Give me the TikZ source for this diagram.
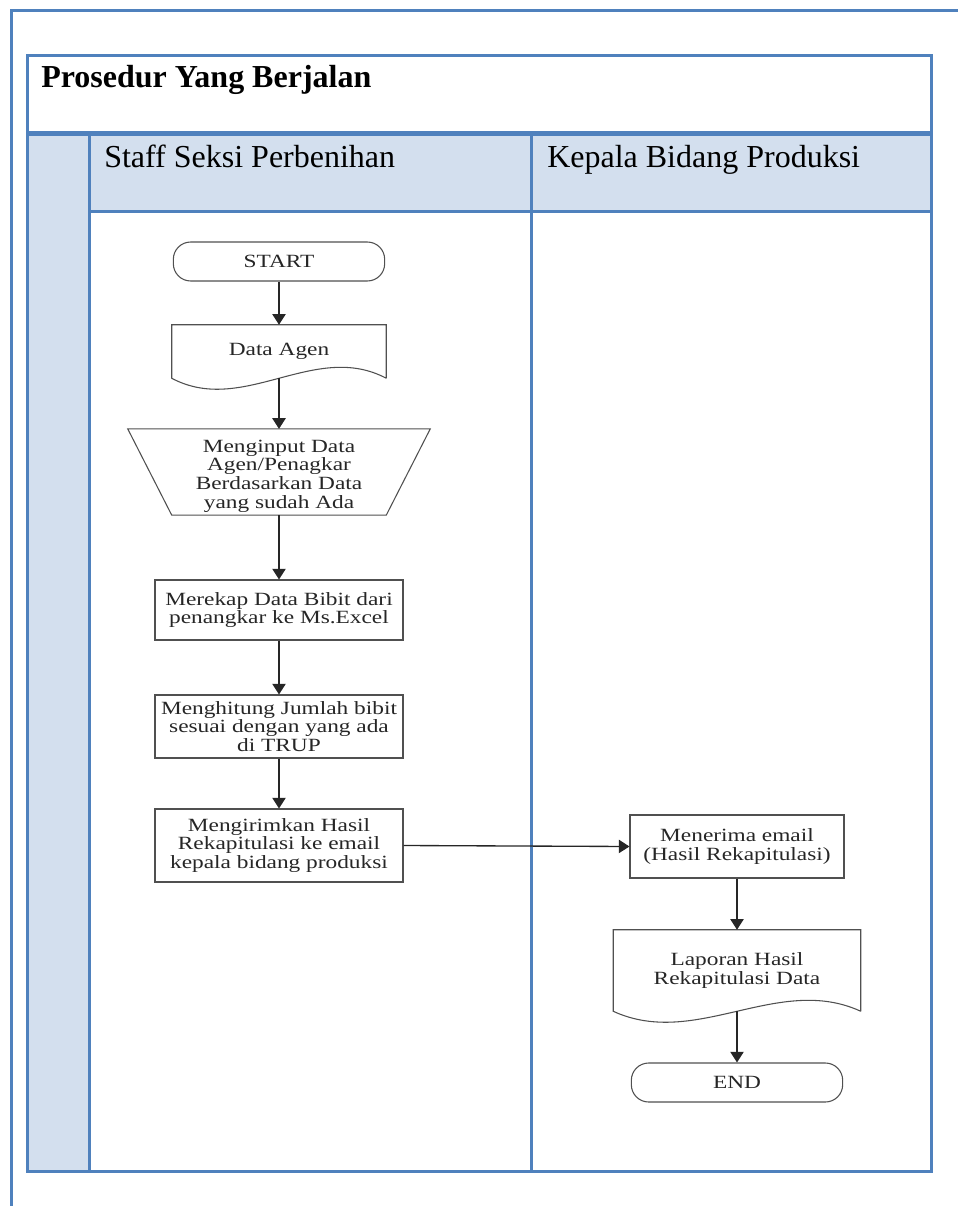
\documentclass[tikz,border=0pt]{standalone}
\usepackage{fontspec}
\setmainfont{Liberation Serif}
\newfontfamily\flowfont{Liberation Serif}[FakeStretch=1.25]
\usetikzlibrary{arrows.meta,calc}
\definecolor{tblblue}{HTML}{4F81BD}
\definecolor{tblfill}{HTML}{D3DFEE}
\definecolor{ink}{HTML}{262626}
\definecolor{edge}{HTML}{505050}
\begin{document}
\begin{tikzpicture}[x=0.75pt,y=-0.75pt,
  tbl/.style={draw=tblblue,line width=2.25pt},
  flowtext/.style={font=\flowfont\fontsize{14}{14}\selectfont, text=ink, align=center, inner sep=2pt},
  proc/.style={flowtext, draw=edge, line width=0.8pt, fill=white, minimum width=186pt},
  term/.style={flowtext, draw=edge, line width=0.8pt, fill=white, rounded corners=13pt, minimum width=158.5pt, minimum height=29.25pt},
  docbox/.style={flowtext, draw=none},
  shapeline/.style={draw=edge, line width=0.8pt},
  arr/.style={draw=ink, line width=1pt, -{Triangle[width=10pt,length=8pt]}}
]
\useasboundingbox (0,0) rectangle (958,1206);
% table
\fill[tblfill] (27.5,133.5) rectangle (931,211);
\fill[tblfill] (27.5,211) rectangle (89.5,1171);
\draw[tbl] (27.5,56) rectangle (931,1171);
\draw[tbl] (89.5,211) -- (931,211);
\draw[tbl] (89.5,133.5) -- (89.5,1171);
\draw[tbl] (531,133.5) -- (531,1171);
\draw[tbl,line width=3.75pt] (27.5,133.5) -- (931,133.5);
\draw[tbl] (11,1206) -- (11,11) -- (958,11);
% titles
\node[anchor=base west, inner sep=0pt, font=\fontsize{24}{28}\selectfont\bfseries] (title) at (41,88) {Prosedur Yang Berjalan};
\node[anchor=base west, inner sep=0pt, font=\fontsize{24}{28}\selectfont] (lane1) at (104,167) {Staff Seksi Perbenihan};
\node[anchor=base west, inner sep=0pt, font=\fontsize{24}{28}\selectfont] (lane2) at (547,167) {Kepala Bidang Produksi};
% flow nodes
\node[term] (start) at (279,261.5) {START};
\node[docbox, minimum width=160.5pt, minimum height=39.75pt] (agen) at (279,351.5) {Data Agen};
\node[docbox, minimum width=160.5pt, minimum height=54pt] (input) at (279,476) {Menginput Data\\Agen/Penagkar\\Berdasarkan Data\\yang sudah Ada};
\node[proc, minimum height=45pt] (rekap) at (279,610) {Merekap Data Bibit dari\\penangkar ke Ms.Excel};
\node[proc, minimum height=47.25pt] (hitung) at (279,726.5) {Menghitung Jumlah bibit\\sesuai dengan yang ada\\di TRUP};
\node[proc, minimum height=54.75pt] (kirim) at (279,845.5) {Mengirimkan Hasil\\Rekapitulasi ke email\\kepala bidang produksi};
\node[proc, minimum width=160.5pt, minimum height=47.25pt] (terima) at (737,846.5) {Menerima email\\(Hasil Rekapitulasi)};
\node[docbox, minimum width=185.25pt, minimum height=60.75pt] (lapor) at (737,970.5) {Laporan Hasil\\Rekapitulasi Data};
\node[term] (end) at (737,1082.5) {END};
% document outlines
\draw[shapeline] (agen.south east) -- (agen.north east) -- (agen.north west) -- (agen.south west)
  .. controls ($(agen.south west)!0.3333!(agen.south east)+(0,38)$) and ($(agen.south west)!0.6667!(agen.south east)+(0,-38)$) .. (agen.south east);
\draw[shapeline] (lapor.south east) -- (lapor.north east) -- (lapor.north west) -- (lapor.south west)
  .. controls ($(lapor.south west)!0.3333!(lapor.south east)+(0,38)$) and ($(lapor.south west)!0.6667!(lapor.south east)+(0,-38)$) .. (lapor.south east);
% manual operation outline
\coordinate (inputtop) at ($(input.north)+(0,-8)$);
\draw[shapeline] ($(input.north west)+(-44,-8)$) -- ($(input.north east)+(44,-8)$) -- (input.south east) -- (input.south west) -- cycle;
% connectors
\draw[arr] (start) -- (agen.north);
\draw[arr] (agen.south) -- (inputtop);
\draw[arr] (input.south) -- (rekap.north);
\draw[arr] (rekap) -- (hitung);
\draw[arr] (hitung) -- (kirim);
\draw[arr] (kirim.east) -- (terima.west);
\draw[arr] (terima) -- (lapor.north);
\draw[arr] (lapor.south) -- (end.north);
\end{tikzpicture}
\end{document}
